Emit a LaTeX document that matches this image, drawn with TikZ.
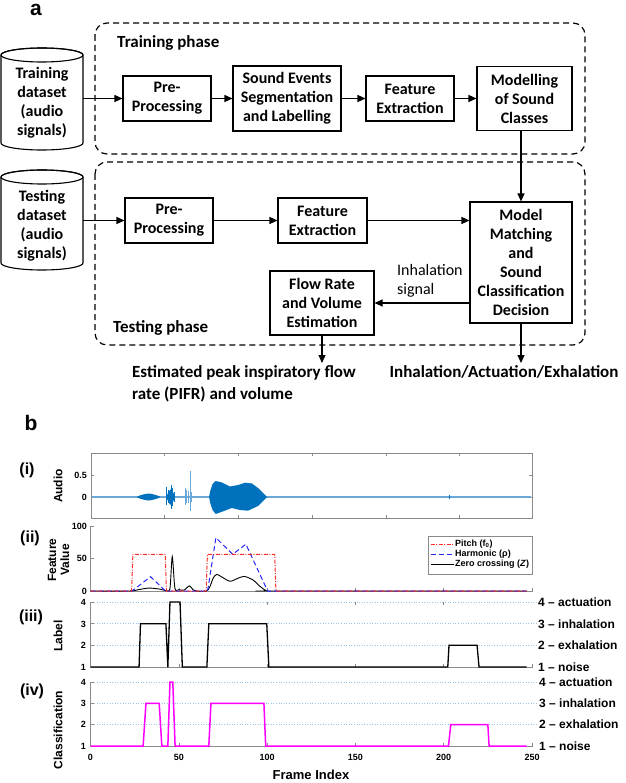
\documentclass[tikz,border=0pt]{standalone}
\usepackage{fontspec}
\setmainfont{Carlito}
\newfontfamily\arialf{Liberation Sans}
\usetikzlibrary{arrows.meta}
\definecolor{wave}{HTML}{0072BD}
\definecolor{wavelight}{HTML}{6AA8DA}
\definecolor{gridc}{HTML}{9DC3E6}
\definecolor{axc}{HTML}{8A8A8A}
\definecolor{mag}{HTML}{FF00FF}
\definecolor{pitchc}{HTML}{FF2A2A}
\definecolor{harmc}{HTML}{2626FF}
\begin{document}
\begin{tikzpicture}[x=1pt,y=-1pt,
  box/.style={draw, line width=1.1pt, fill=white, align=center, inner sep=0pt,
    font=\bfseries\fontsize{16}{19}\selectfont},
  phase/.style={draw, dash pattern=on 6pt off 4pt, line width=1.2pt, rounded corners=12pt},
  arr/.style={-{Triangle[length=8pt,width=7pt]}, line width=1.1pt},
  cyl/.style={line width=1.1pt, fill=white},
  cyltext/.style={align=center, inner sep=0pt, minimum width=82pt,
    font=\bfseries\fontsize{16}{19}\selectfont},
  phlabel/.style={anchor=west, inner sep=0pt, font=\bfseries\fontsize{17}{21}\selectfont},
  outtext/.style={inner sep=0pt, font=\bfseries\fontsize{17}{22}\selectfont},
  axis/.style={draw=axc, line width=0.6pt},
  gridl/.style={draw=gridc, line width=0.6pt, dotted},
  ticklbl/.style={inner sep=0pt, font=\arialf\bfseries\fontsize{9}{10}\selectfont},
  ylbl/.style={rotate=90, inner sep=0pt, align=center, font=\arialf\bfseries\fontsize{12}{13}\selectfont},
  panel/.style={inner sep=0pt, font=\arialf\bfseries\fontsize{16}{18}\selectfont},
  rlbl/.style={anchor=west, inner sep=0pt, font=\arialf\bfseries\fontsize{12}{14}\selectfont},
  leglbl/.style={anchor=west, inner sep=0pt, font=\arialf\bfseries\fontsize{9}{10}\selectfont},
  pitch/.style={draw=pitchc, line width=1pt, dash pattern=on 4pt off 1.5pt on 1pt off 1.5pt},
  harm/.style={draw=harmc, line width=1pt, dash pattern=on 5pt off 3pt},
  zc/.style={draw=black, line width=0.9pt},
  labl/.style={draw=black, line width=1.3pt},
  clsl/.style={draw=mag, line width=1.5pt}
]
\useasboundingbox (0,0) rectangle (625,783);

% ---------------- panel a ----------------
\node[inner sep=0pt, font=\arialf\bfseries\fontsize{21}{23}\selectfont] (lbla) at (36,10) {a};

\draw[phase] (95,23) rectangle (585,154);
\draw[phase] (95,162) rectangle (585,345);
\node[phlabel] (trainlbl) at (117,43) {Training phase};
\node[phlabel] (testlbl) at (113,328) {Testing phase};

% cylinders
\draw[cyl] (1,55) -- (1,143) arc[start angle=180, end angle=360, x radius=41pt, y radius=7pt] -- (83,55) arc[start angle=0, end angle=180, x radius=41pt, y radius=7pt] -- cycle;
\draw[line width=1.1pt] (42,55) ellipse[x radius=41pt, y radius=7pt];
\node[cyltext] (trainds) at (42,103) {Training\\dataset\\(audio\\signals)};

\draw[cyl] (1,177) -- (1,263) arc[start angle=180, end angle=360, x radius=41pt, y radius=7pt] -- (83,177) arc[start angle=0, end angle=180, x radius=41pt, y radius=7pt] -- cycle;
\draw[line width=1.1pt] (42,177) ellipse[x radius=41pt, y radius=7pt];
\node[cyltext] (testds) at (42,225.5) {Testing\\dataset\\(audio\\signals)};

% training boxes
\node[box, minimum width=88pt, minimum height=45pt] (tpre) at (167,98.5) {Pre-\\Processing};
\node[box, minimum width=108pt, minimum height=65pt] (seg) at (287,98.5) {Sound Events\\Segmentation\\and Labelling};
\node[box, minimum width=88pt, minimum height=45pt] (tfeat) at (410,98.5) {Feature\\Extraction};
\node[box, minimum width=95pt, minimum height=64pt] (model) at (524.5,98.5) {Modelling\\of Sound\\Classes};

% testing boxes
\node[box, minimum width=88pt, minimum height=45pt] (spre) at (169,220.5) {Pre-\\Processing};
\node[box, minimum width=89pt, minimum height=45pt] (sfeat) at (322.5,220.5) {Feature\\Extraction};
\node[box, minimum width=102pt, minimum height=121pt] (mm) at (521,262.5) {Model\\Matching\\and\\Sound\\Classification\\Decision};
\node[box, minimum width=104pt, minimum height=64pt] (flow) at (322,303) {Flow Rate\\and Volume\\Estimation};

\node[anchor=west, inner sep=0pt, align=left, font=\fontsize{16}{18.5}\selectfont] (inh) at (397,281) {Inhalation\\signal};

% arrows
\draw[arr] (83,98.5) -- (tpre.west);
\draw[arr] (tpre.east) -- (seg.west);
\draw[arr] (seg.east) -- (tfeat.west);
\draw[arr] (tfeat.east) -- (model.west);
\draw[arr] (model.south -| mm.north) -- (mm.north);
\draw[arr] (83,220.5) -- (spre.west);
\draw[arr] (spre.east) -- (sfeat.west);
\draw[arr] (sfeat.east) -- (mm.west |- sfeat.east);
\draw[arr] (mm.west |- flow.east) -- (flow.east);
\coordinate (flowout) at (322,363);
\coordinate (mmout) at (521,363);
\draw[arr] (flow.south) -- (flowout);
\draw[arr] (mm.south) -- (mmout);

\node[outtext, anchor=north west, align=left] (pifr) at (132,365) {Estimated peak inspiratory flow\\rate (PIFR) and volume};
\node[outtext, anchor=north] (cls) at (504,365) {Inhalation/Actuation/Exhalation};

% ---------------- panel b ----------------
\node[inner sep=0pt, font=\arialf\bfseries\fontsize{21}{23}\selectfont] (lblb) at (31,423) {b};

\node[panel] (pi) at (27,470) {(i)};
\node[panel] (pii) at (30,538) {(ii)};
\node[panel] (piii) at (31,617) {(iii)};
\node[panel] (piv) at (32,691) {(iv)};

\node[ylbl] (yaudio) at (58,486) {Audio};
\node[ylbl] (yfeat) at (58.5,560) {Feature\\Value};
\node[ylbl] (ylab) at (58,636) {Label};
\node[ylbl] (ycls) at (58,730) {Classification};

% (i) audio
\draw[axis] (91,453) rectangle (532,518);
\foreach \x in {164,238,312,386,459} {
  \draw[axis] (\x,518) -- (\x,515);
  \draw[axis] (\x,453) -- (\x,456);
}
\foreach \y in {475,497} {
  \draw[axis] (91,\y) -- (94,\y);
  \draw[axis] (532,\y) -- (529,\y);
}
\node[ticklbl, anchor=east] (a05) at (87,475) {0.5};
\node[ticklbl, anchor=east] (a0) at (87,497) {0};
\draw[wavelight, line width=1.3pt] (92,497) -- (531,497);
\fill[wave] plot[smooth cycle, tension=0.6] coordinates {(137,497) (143,494.5) (148,493.5) (154,494.5) (160,497) (154,499.5) (148,500.5) (143,499.5)};
\fill[wave] (166,497) -- (169,491) -- (171,489) -- (173,492) -- (175,497) -- (173,502) -- (171,505) -- (169,503) -- cycle;
\foreach \x/\a/\b in {166.7/486.7/505, 168/490/503, 171/485/509, 172.3/488/506, 174/492/502} {
  \draw[wave, line width=0.6pt] (\x,\a) -- (\x,\b);
}
\foreach \x/\a/\b in {185/488/505, 186.5/490/503, 188/491/503, 190/471/511, 191.3/492/502} {
  \draw[wavelight, line width=0.7pt] (\x,\a) -- (\x,\b);
}
\fill[wave] (209,497) -- (210.5,490) -- (212.5,484) -- (215.7,481) -- (222,482.5) -- (230,486.5) -- (238,485) -- (245,482.7) -- (252,483.5) -- (258,488) -- (263,493) -- (267,497) -- (263,501) -- (258,506) -- (248,510.7) -- (240,510) -- (231.7,508) -- (224,511) -- (215.7,514) -- (212.5,510) -- (210.5,504) -- cycle;
\draw[wave, line width=0.6pt] (449,495) -- (449,499);

% (ii) features
\begin{scope}[shift={(90.5,591)}, x=1.766pt, y=0.65pt]
  \draw[axis] (0,100) -- (0,0) -- (250,0) -- ++(0pt,3pt);
  \foreach \t in {50,100,150,200} \draw[axis] (\t,0) -- ++(0pt,3pt);
  \foreach \v in {0,50,100} \draw[axis] (0,\v) -- ++(3pt,0pt);
  \draw[zc] plot[smooth, tension=0.45] coordinates {(0,0) (22,0) (27,2) (33,4.5) (39,3) (43,0.5) (45,4) (46.3,53) (47.8,4) (50,2) (53,1.5) (56,8) (58,2) (60,0) (65.5,0) (67.5,6) (69.5,20) (71.5,25.5) (75,20.5) (79,15) (83,19) (87,22.5) (92,17) (96,7) (99.5,0.5) (102,0) (247,0)};
  \draw[harm] (0,0) -- (23.5,0) -- (34,22) -- (42.5,0) -- (66.3,0) -- (71,82) -- (80.5,56.5) -- (88,72) -- (100.3,0) -- (247,0);
  \draw[pitch] (0,0) -- (23.3,0) -- (24,56.5) -- (42.3,56.5) -- (43,0) -- (65.5,0) -- (66.2,56.5) -- (104.3,56.5) -- (105,0) -- (247,0);
\end{scope}
\node[ticklbl, anchor=east] (f100) at (87,526) {100};
\node[ticklbl, anchor=east] (f50) at (87,558.5) {50};
\node[ticklbl, anchor=east] (f0) at (87,591) {0};

% legend
\draw[draw=axc, line width=0.6pt, fill=white] (428,536) rectangle (532,574);
\draw[pitch] (430.5,544.5) -- (453.5,544.5);
\draw[harm] (430.5,554.5) -- (453.5,554.5);
\draw[zc] (430.5,564.5) -- (453.5,564.5);
\node[leglbl] (lg1) at (455,544.5) {Pitch (f\textsubscript{0})};
\node[leglbl] (lg2) at (455,554.5) {Harmonic (ρ)};
\node[leglbl] (lg3) at (455,564.5) {Zero crossing (\textit{Z})};

% (iii) label
\begin{scope}[shift={(90.5,667)}, x=1.766pt, y=21.67pt]
  \foreach \v in {1,2,3} \draw[gridl] (2,\v) -- (252.5,\v);
  \draw[axis] (0,3) -- (0,0) -- (250,0) -- ++(0pt,3pt);
  \foreach \t in {50,100,150,200} {
    \draw[axis] (\t,0) -- ++(0pt,3pt);
    \draw[axis] (\t,3) -- ++(0pt,-3pt);
  }
  \foreach \v in {0,1,2,3} \draw[axis] (0,\v) -- ++(3pt,0pt);
  \draw[labl] (0,0) -- (27.5,0) -- (28.3,2) -- (42.7,2) -- (43.8,0) -- (45,3) -- (50.7,3) -- (52,0) -- (65.9,0) -- (67,2) -- (99.8,2) -- (101,0) -- (202.3,0) -- (203,1) -- (218.9,1) -- (220,0) -- (247,0);
\end{scope}
\node[ticklbl, anchor=east] (l4) at (86,602) {4};
\node[ticklbl, anchor=east] (l3) at (86,624) {3};
\node[ticklbl, anchor=east] (l2) at (86,645.5) {2};
\node[ticklbl, anchor=east] (l1) at (86,667) {1};
\node[rlbl] (r4) at (538,602) {4 – actuation};
\node[rlbl] (r3) at (538,624) {3 – inhalation};
\node[rlbl] (r2) at (538,645.5) {2 – exhalation};
\node[rlbl] (r1) at (538,667) {1 – noise};

% (iv) classification
\begin{scope}[shift={(90.5,746)}, x=1.766pt, y=21.33pt]
  \foreach \v in {1,2,3} \draw[gridl] (2,\v) -- (252.5,\v);
  \draw[axis] (0,3) -- (0,0) -- (250,0) -- ++(0pt,3pt);
  \foreach \t in {50,100,150,200} \draw[axis] (\t,0) -- ++(0pt,3pt);
  \foreach \v in {0,1,2,3} \draw[axis] (0,\v) -- ++(3pt,0pt);
  \draw[clsl] (0,0) -- (29.8,0) -- (31.4,2) -- (38.9,2) -- (40.4,0) -- (43.8,0) -- (45,3) -- (46.6,3) -- (47.9,0) -- (67,0) -- (68.2,2) -- (98.2,2) -- (99.2,0) -- (202.7,0) -- (204,1) -- (225,1) -- (225.7,0) -- (247,0);
\end{scope}
\node[ticklbl, anchor=east] (c4) at (86,682) {4};
\node[ticklbl, anchor=east] (c3) at (86,703) {3};
\node[ticklbl, anchor=east] (c2) at (86,724.5) {2};
\node[ticklbl, anchor=east] (c1) at (86,746) {1};
\node[rlbl] (s4) at (539,682) {4 – actuation};
\node[rlbl] (s3) at (539,703) {3 – inhalation};
\node[rlbl] (s2) at (539,724.5) {2 – exhalation};
\node[rlbl] (s1) at (539,746) {1 – noise};

\foreach \t/\n in {0/x0, 50/x50, 100/x100, 150/x150, 200/x200, 250/x250}
  \node[ticklbl] (\n) at ({90.5+1.766*\t},757.5) {\t};
\node[inner sep=0pt, font=\arialf\bfseries\fontsize{13}{14}\selectfont] (xlab) at (311,774.5) {Frame Index};
\end{tikzpicture}
\end{document}
